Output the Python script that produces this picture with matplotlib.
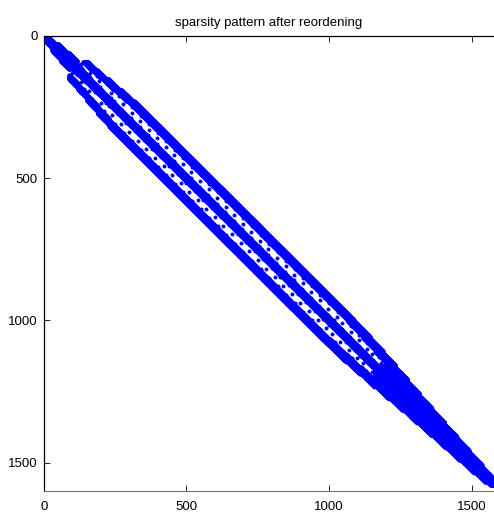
import matplotlib
matplotlib.use("Agg")
import matplotlib.pyplot as plt
import numpy as np

plt.rcParams['font.family'] = ['Liberation Sans', 'DejaVu Sans']

# matrix size (rows/cols)
n = 1580

# band structure of the upper triangle, segment by segment (row ranges);
# each segment lists offset intervals (lo, hi) from the diagonal holding nonzeros
seg_start = [0, 30, 60, 90, 120, 150, 190, 230, 1000, 1060, 1110,
             1160, 1210, 1260, 1310, 1360, 1410, 1460, 1510, 1550]
seg_end = [30, 60, 90, 120, 150, 190, 230, 1000, 1060, 1110, 1160,
           1210, 1260, 1310, 1360, 1410, 1460, 1510, 1550, 1580]
seg_bands = [
    [(0, 12)],
    [(0, 22)],
    [(0, 28)],
    [(0, 16), (48, 62)],
    [(0, 13), (52, 67)],
    [(0, 11), (57, 75)],
    [(0, 10), (62, 82)],
    [(0, 10), (67, 88)],
    [(0, 10), (64, 86)],
    [(0, 10), (59, 80)],
    [(0, 10), (53, 74)],
    [(0, 66)],
    [(0, 58)],
    [(0, 51)],
    [(0, 45)],
    [(0, 39)],
    [(0, 33)],
    [(0, 27)],
    [(0, 20)],
    [(0, 12)],
]

# isolated entries sitting in the gaps between bands
dot_rows_step = 10
dot_gap_frac = [0.12, 0.5, 0.88]

x_ticks = [0, 500, 1000, 1500]
y_ticks = [0, 500, 1000, 1500]


def build_pattern():
    rows, cols = [], []
    for r0, r1, bands in zip(seg_start, seg_end, seg_bands):
        for i in range(r0, r1):
            for lo, hi in bands:
                j = np.arange(i + lo, i + hi + 1)
                j = j[j < n]
                rows.append(np.full(len(j), i))
                cols.append(j)
            if len(bands) > 1 and (i - r0) % dot_rows_step == 0:
                gap_lo = bands[0][1]
                gap_hi = bands[1][0]
                k = ((i - r0) // dot_rows_step) % len(dot_gap_frac)
                off = int(gap_lo + dot_gap_frac[k] * (gap_hi - gap_lo))
                if i + off < n:
                    rows.append(np.array([i]))
                    cols.append(np.array([i + off]))
    rows = np.concatenate(rows)
    cols = np.concatenate(cols)
    # symmetric matrix
    return np.concatenate([rows, cols]), np.concatenate([cols, rows])


r, c = build_pattern()

fig = plt.figure(figsize=(4.94, 5.13), dpi=100)
ax = fig.add_axes([0.0885, 0.043, 0.91, 0.887])
ax.scatter(c, r, s=8, color='#0000ff', linewidths=0)

ax.set_xlim(0, 1576)
ax.set_ylim(1600, 0)
ax.set_xticks(x_ticks)
ax.set_yticks(y_ticks)
ax.tick_params(direction='in', length=4, width=0.6, labelsize=9.5,
               top=True, right=False)
ax.tick_params(axis='x', pad=7)
ax.tick_params(axis='y', pad=4.5)
for s in ['top', 'left']:
    ax.spines[s].set_linewidth(0.9)
ax.spines['bottom'].set_color('#777777')
ax.spines['right'].set_visible(False)
ax.set_title("sparsity pattern after reordening", fontsize=9.5, pad=7)

fig.savefig("out.png", dpi=100)
